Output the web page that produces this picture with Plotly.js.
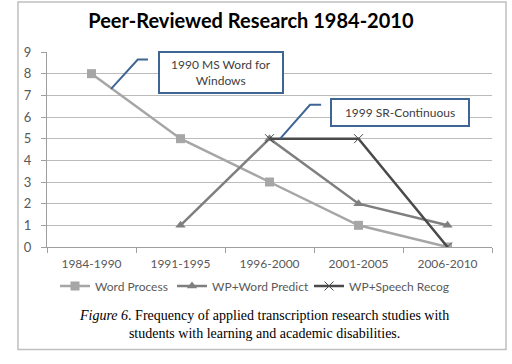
<!DOCTYPE html>
<html>
<head>
<meta charset="utf-8">
<script src="https://cdn.plot.ly/plotly-3.0.1.min.js"></script>
<style>html,body{margin:0;padding:0;background:#fff;}#chart{width:512px;height:364px;}</style>
</head>
<body>
<div id="chart"></div>
<script>
const periods = ["1984-1990", "1991-1995", "1996-2000", "2001-2005", "2006-2010"];
const wordProcess = [8, 5, 3, 1, 0];
const wordPredict = [null, 1, 5, 2, 1];
const speechRecog = [null, null, 5, 5, 0];
const seriesNames = ["Word Process", "WP+Word Predict", "WP+Speech Recog"];
const titleText = "Peer-Reviewed Research 1984-2010";
const note1 = "1990 MS Word for<br>Windows";
const note2 = "1999 SR-Continuous";
const captionText = "<i>Figure 6</i>. Frequency of applied transcription research studies with<br>students with learning and academic disabilities.";

const traces = [
  {x: periods, y: wordProcess, name: seriesNames[0], mode: "lines+markers", legend: "legend",
   line: {color: "#a6a6a6", width: 2.5}, marker: {symbol: "square", size: 9, color: "#a6a6a6"}},
  {x: periods, y: wordPredict, name: seriesNames[1], mode: "lines+markers", legend: "legend2",
   line: {color: "#7f7f7f", width: 2.5}, marker: {symbol: "triangle-up", size: 9, color: "#7f7f7f"}},
  {x: periods, y: speechRecog, name: seriesNames[2], mode: "lines+markers", legend: "legend3",
   line: {color: "#4a4a4a", width: 2.5}, marker: {symbol: "x-thin-open", size: 9, line: {color: "#4a4a4a", width: 1}}}
];

const blue = "#3e6594";
function leg(px) {
  return {orientation: "h", x: (px - 47) / 445, xanchor: "left", y: -0.2, yanchor: "middle",
          font: {size: 12, color: "#595959"}, itemwidth: 30, bgcolor: "rgba(0,0,0,0)"};
}
const layout = {
  width: 512, height: 364,
  margin: {l: 47, r: 20, t: 52, b: 117},
  paper_bgcolor: "#fff", plot_bgcolor: "#fff",
  font: {family: "Lato, 'Open Sans', sans-serif", color: "#595959", size: 12},
  title: {text: "<b>" + titleText + "</b>", x: 0.49, xanchor: "center", y: 0.942, yanchor: "middle",
          font: {family: "Lato, sans-serif", size: 20, color: "#000"}},
  showlegend: true,
  legend: leg(55),
  legend2: leg(172),
  legend3: leg(309),
  xaxis: {type: "category", range: [-0.5, 4.5], showgrid: false, showline: true, linecolor: "#9f9f9f", linewidth: 1,
          ticks: "outside", tickson: "boundaries", ticklen: 5, tickcolor: "#9f9f9f", ticklabelstandoff: 6,
          tickfont: {size: 12, color: "#595959"}, fixedrange: true},
  yaxis: {range: [0, 9], dtick: 1, showgrid: true, gridcolor: "#bcbcbc", gridwidth: 1,
          showline: true, linecolor: "#9f9f9f", ticks: "outside", ticklen: 5, tickcolor: "#9f9f9f", ticklabelstandoff: 7,
          zeroline: false, tickfont: {size: 13, color: "#595959"}, fixedrange: true},
  shapes: [
    {type: "rect", xref: "paper", yref: "paper", x0: -0.0652, x1: 1.0315, y0: -0.526, y1: 1.256,
     line: {color: "#bfbfbf", width: 1.5}},
    {type: "path", xref: "x", yref: "y", path: "M 0.22 7.30 L 0.52 8.65 L 0.635 8.65", line: {color: blue, width: 2}},
    {type: "path", xref: "x", yref: "y", path: "M 2.12 5.0 L 2.455 6.56 L 2.58 6.56", line: {color: blue, width: 2}}
  ],
  annotations: [
    {xref: "x", yref: "y", x: 1.46, y: 8.04, text: note1, showarrow: false, width: 120, height: 37,
     bordercolor: blue, borderwidth: 2, bgcolor: "#fff", font: {size: 12, color: "#404040"}},
    {xref: "x", yref: "y", x: 3.465, y: 6.2, text: note2, showarrow: false, width: 134, height: 23,
     bordercolor: blue, borderwidth: 2, bgcolor: "#fff", font: {size: 12, color: "#404040"}},
    {xref: "paper", yref: "paper", x: (264 - 47) / 445, y: (247.3 - 324.5) / 195.3, xanchor: "center", yanchor: "middle",
     text: captionText, showarrow: false, align: "center",
     font: {family: "'Liberation Serif', 'DejaVu Serif', serif", size: 14, color: "#000"}}
  ]
};
Plotly.newPlot("chart", traces, layout, {staticPlot: true, displayModeBar: false});
</script>
</body>
</html>
